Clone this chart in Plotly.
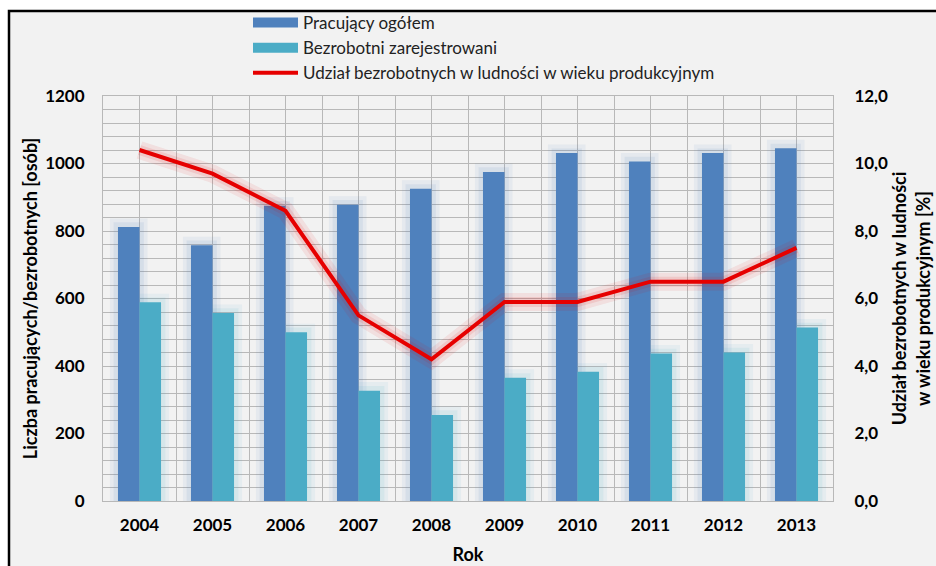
import numpy as np
import plotly.graph_objects as go

years = ["2004", "2005", "2006", "2007", "2008", "2009", "2010", "2011", "2012", "2013"]
pracujacy = [812, 758, 875, 878, 925, 975, 1031, 1006, 1031, 1045]
bezrobotni = [589, 557, 500, 327, 255, 365, 383, 437, 440, 514]
udzial = [10.4, 9.7, 8.6, 5.5, 4.2, 5.9, 5.9, 6.5, 6.5, 7.5]

BLUE = "#4f81bd"
CYAN = "#4bacc6"
RED = "#e60000"
FONT = "Lato"

x = np.arange(len(years))
bw = 0.295

fig = go.Figure()

# soft glow behind bars
for vals, col, off in [(pracujacy, "79,129,189", -bw), (bezrobotni, "75,172,198", 0.0)]:
    for k, a in [(0.11, 0.08), (0.06, 0.10)]:
        fig.add_trace(go.Bar(x=x, y=np.array(vals) + k * 230, offset=off - k, width=bw + 2 * k,
                             marker=dict(color=f"rgba({col},{a})", line=dict(width=0)),
                             showlegend=False, hoverinfo="skip"))

fig.add_trace(go.Bar(x=x, y=pracujacy, offset=-bw, width=bw, name="Pracujący ogółem",
                     marker=dict(color=BLUE, line=dict(width=0)), showlegend=False))
fig.add_trace(go.Bar(x=x, y=bezrobotni, offset=0.0, width=bw, name="Bezrobotni zarejestrowani",
                     marker=dict(color=CYAN, line=dict(width=0)), showlegend=False))

# glow behind line
fig.add_trace(go.Scatter(x=x, y=udzial, yaxis="y2", mode="lines",
                         line=dict(color="rgba(230,0,0,0.08)", width=18),
                         showlegend=False, hoverinfo="skip"))
fig.add_trace(go.Scatter(x=x, y=udzial, yaxis="y2", mode="lines",
                         line=dict(color="rgba(230,0,0,0.10)", width=10),
                         showlegend=False, hoverinfo="skip"))
fig.add_trace(go.Scatter(x=x, y=udzial, yaxis="y2", mode="lines",
                         name="Udział bezrobotnych w ludności w wieku produkcyjnym",
                         line=dict(color=RED, width=4), showlegend=False))

# legend entries
fig.add_trace(go.Scatter(x=[None], y=[None], mode="lines", name="Pracujący ogółem",
                         line=dict(color=BLUE, width=10)))
fig.add_trace(go.Scatter(x=[None], y=[None], mode="lines", name="Bezrobotni zarejestrowani",
                         line=dict(color=CYAN, width=10)))
fig.add_trace(go.Scatter(x=[None], y=[None], mode="lines",
                         name="Udział bezrobotnych w ludności w wieku produkcyjnym",
                         line=dict(color=RED, width=4)))

L, R, T, B = 103, 103, 96, 65
W, H = 936, 566
pw, ph = W - L - R, H - T - B

fig.add_shape(type="rect", xref="paper", yref="paper",
              x0=(9 - L) / pw, x1=(W + 20 - L) / pw,
              y0=(H - B - (H + 20)) / ph, y1=(H - B - 11) / ph,
              fillcolor="#f2f2f2", line=dict(color="black", width=2.5), layer="below")

GRID = "#b8b8b8"
TICKF = dict(size=17, family=FONT, weight="bold", color="black")
TITLEF = dict(size=18, family=FONT, weight="bold", color="black")
fig.update_layout(
    width=W, height=H,
    margin=dict(l=L, r=R, t=T, b=B, autoexpand=False),
    paper_bgcolor="white",
    plot_bgcolor="#f2f2f2",
    barmode="overlay",
    separators=", ",
    font=dict(family=FONT, color="black"),
    legend=dict(x=(248 - L) / pw, y=(H - B - 5) / ph, xanchor="left", yanchor="top",
                bgcolor="rgba(0,0,0,0)", font=dict(size=17, family=FONT, color="#222"),
                itemwidth=45, tracegroupgap=0),
    xaxis=dict(range=[-0.5, 9.5], tickvals=x, ticktext=years, showgrid=True, gridcolor=GRID,
               gridwidth=1, minor=dict(dtick=0.5, tick0=0.5, showgrid=True, gridcolor=GRID, gridwidth=1),
               zeroline=False, ticks="outside", ticklen=9, tickcolor="rgba(0,0,0,0)",
               tickfont=TICKF, automargin=False,
               title=dict(text="Rok", font=TITLEF, standoff=13),
               showline=True, linecolor=GRID, mirror=True),
    yaxis=dict(range=[0, 1200], dtick=200, showgrid=True, gridcolor=GRID, gridwidth=1,
               minor=dict(dtick=40, showgrid=True, gridcolor=GRID, gridwidth=1),
               zeroline=False, ticks="outside", ticklen=14, tickcolor="rgba(0,0,0,0)",
               tickfont=TICKF, automargin=False,
               title=dict(text="Liczba pracujących/bezrobotnych [osób]", font=TITLEF, standoff=2),
               showline=True, linecolor=GRID, mirror=True),
    yaxis2=dict(range=[0, 12], dtick=2, tickformat=".1f", overlaying="y", side="right",
                showgrid=False, zeroline=False, ticks="outside", ticklen=17,
                tickcolor="rgba(0,0,0,0)", automargin=False,
                tickfont=TICKF,
                title=dict(text="Udział bezrobotnych w ludności<br>w wieku produkcyjnym [%]",
                           font=TITLEF, standoff=6)),
)

fig.write_html("out.html", config={"displayModeBar": False},
               post_script="document.body.style.margin='0';")
